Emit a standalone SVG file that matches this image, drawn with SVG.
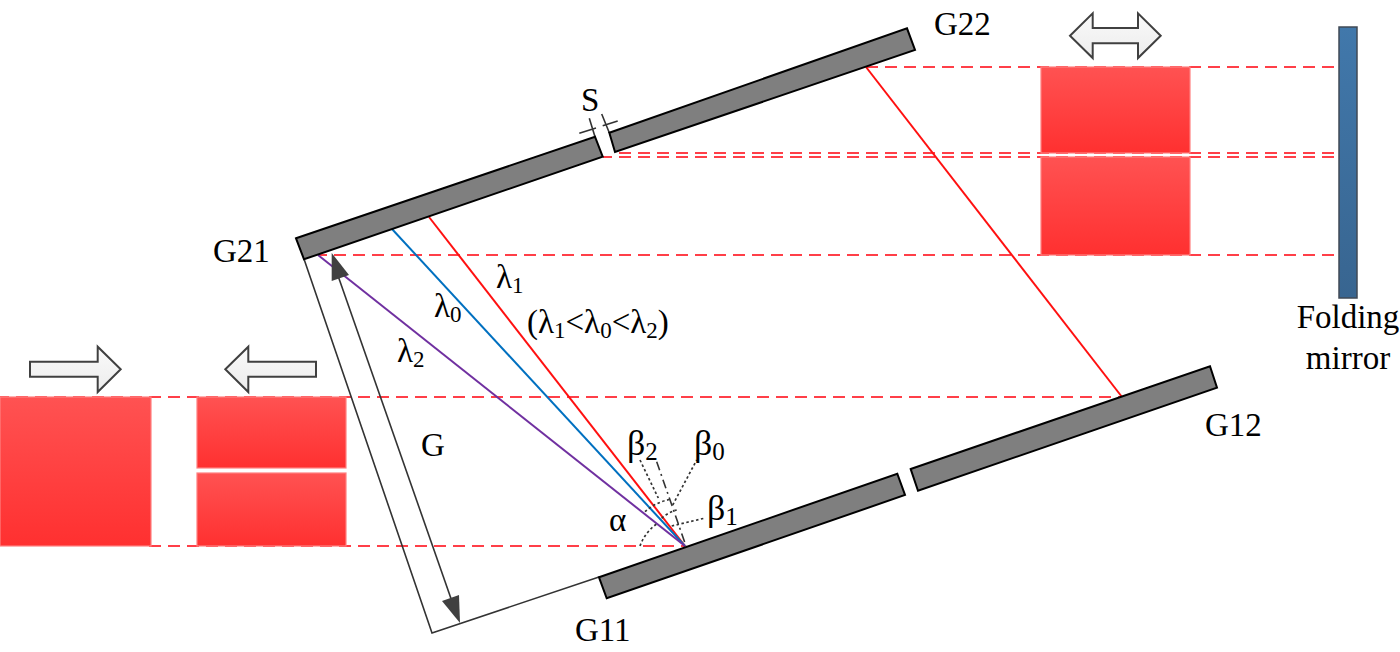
<svg xmlns="http://www.w3.org/2000/svg" width="1400" height="652" viewBox="0 0 1400 652">
<style>
text{font-family:"Liberation Serif","Times New Roman",serif;font-size:33px;fill:#000}
tspan.s{font-size:23px}
text.big{font-size:36px}
text.big tspan.s{font-size:25px}
.beam{fill:url(#red);stroke:#ff8080;stroke-width:1.2}
.grating{fill:#7f7f7f;stroke:#000;stroke-width:2}
.hollow{fill:url(#pale);stroke:#404040;stroke-width:2}
.dash{fill:none;stroke:#ff3f48;stroke-width:1.8;stroke-dasharray:12 7}
.ray{fill:none;stroke-width:2}
.dot{fill:none;stroke:#333;stroke-width:1.7;stroke-dasharray:2.5 2.5}
.thin{fill:none;stroke:#333;stroke-width:1.6}
.head{fill:#404040;stroke:none}
</style>
<defs>
<linearGradient id="red" x1="0" y1="0" x2="0" y2="1"><stop offset="0" stop-color="#ff5252"/><stop offset="1" stop-color="#ff3030"/></linearGradient>
<linearGradient id="pale" x1="0" y1="0" x2="0" y2="1"><stop offset="0" stop-color="#fafafa"/><stop offset="1" stop-color="#ececec"/></linearGradient>
<linearGradient id="blue" x1="0" y1="0" x2="0" y2="1"><stop offset="0" stop-color="#4178ab"/><stop offset="1" stop-color="#386590"/></linearGradient>
</defs>
<g id="connectors">
<path class="dash" d="M-3 397H1122"/>
<path class="dash" d="M149 546H685"/>
<path class="dash" d="M866 67H1339"/>
<path class="dash" stroke-dashoffset="15" d="M615 153H1338"/>
<path class="dash" stroke-dashoffset="3" d="M603 157H1338"/>
<path class="dash" stroke-dashoffset="3" d="M318 255H1339"/>
<path class="ray" stroke="#ff1010" d="M429 217L685 546"/>
<path class="ray" stroke="#ff1010" d="M866 67L1122 397"/>
<path class="ray" stroke="#0070c0" d="M392 229L685 546"/>
<path class="ray" stroke="#7030a0" d="M318 255L685 546"/>
<path class="thin" d="M304 259L432 633L599 577"/>
<path class="thin" d="M336 270L455 610"/>
<path class="head" d="M331.700 253L349 275L331.700 281Z"/>
<path class="head" d="M460 623L442 601L459 595Z"/>
<path class="thin" d="M579.300 133.300L596 128M602.700 125.700L617.700 121M589.300 118.300L595 136.700M601.700 114L609.300 132.700"/>
<path class="dot" d="M640 546A46 46 0 0 1 658 523"/>
<path class="dot" d="M645 511.700A52 52 0 0 1 670.700 499.300"/>
<path class="dot" d="M661.700 518.300A36 36 0 0 1 676.700 510"/>
<path class="dot" d="M671.700 526L704 518.300"/>
<path class="dot" d="M672.700 505L696.700 460"/>
<path class="dot" d="M640 460L658.300 498"/>
<path class="thin" stroke-dasharray="9 4 2 4" d="M656.700 461.700L686 546"/>
</g>
<g id="beam-left"><rect class="beam" x="0" y="397" width="151" height="149"/></g>
<g id="beam-mid-top"><rect class="beam" x="197" y="397" width="149" height="71"/></g>
<g id="beam-mid-bottom"><rect class="beam" x="197" y="473" width="149" height="73"/></g>
<g id="beam-right-top"><rect class="beam" x="1041" y="67" width="149" height="86"/></g>
<g id="beam-right-bottom"><rect class="beam" x="1041" y="157" width="149" height="98"/></g>
<g id="mirror"><rect x="1339" y="27" width="18" height="271" fill="url(#blue)" stroke="#404a55" stroke-width="1.5"/></g>
<g id="G11"><path class="grating" d="M599 577.300L897.300 473.700L905 495L606.700 598.300Z"/></g>
<g id="G12"><path class="grating" d="M910.700 469L1210 366.300L1217 387.700L918 490.700Z"/></g>
<g id="G21"><path class="grating" d="M296 238.300L595 136.700L602.700 156.700L304 259.300Z"/></g>
<g id="G22"><path class="grating" d="M609.300 132.700L907 28.300L915 50L615 152Z"/></g>
<g id="arrow-right"><path class="hollow" d="M30 361.700H97.700V346.700L120.700 369.300L97.700 392V376.700H30Z"/></g>
<g id="arrow-left"><path class="hollow" d="M316 361.700H248.300V346.700L225.300 369.300L248.300 392V376.700H316Z"/></g>
<g id="arrow-double"><path class="hollow" d="M1070 35.700L1092.700 13.300V28H1138V13.300L1160.700 35.700L1138 58V43.300H1092.700V58Z"/></g>
<g id="labels">
<text x="934" y="35">G22</text>
<text x="581" y="111">S</text>
<text x="213" y="262">G21</text>
<text x="496" y="288">λ<tspan class="s" dy="5">1</tspan></text>
<text x="434" y="317">λ<tspan class="s" dy="5">0</tspan></text>
<text x="397" y="362">λ<tspan class="s" dy="5">2</tspan></text>
<text x="527" y="333">(λ<tspan class="s" dy="5">1</tspan><tspan dy="-5">&lt;λ</tspan><tspan class="s" dy="5">0</tspan><tspan dy="-5">&lt;λ</tspan><tspan class="s" dy="5">2</tspan><tspan dy="-5">)</tspan></text>
<text x="421" y="456">G</text>
<text x="575" y="641">G11</text>
<text x="1205" y="436">G12</text>
<text class="big" x="627" y="455">β<tspan class="s" dy="5">2</tspan></text>
<text class="big" x="694" y="455">β<tspan class="s" dy="5">0</tspan></text>
<text class="big" x="707" y="520">β<tspan class="s" dy="5">1</tspan></text>
<text x="609" y="531">α</text>
<text x="1348" y="328" text-anchor="middle">Folding</text>
<text x="1348" y="369" text-anchor="middle">mirror</text>
</g>
</svg>
